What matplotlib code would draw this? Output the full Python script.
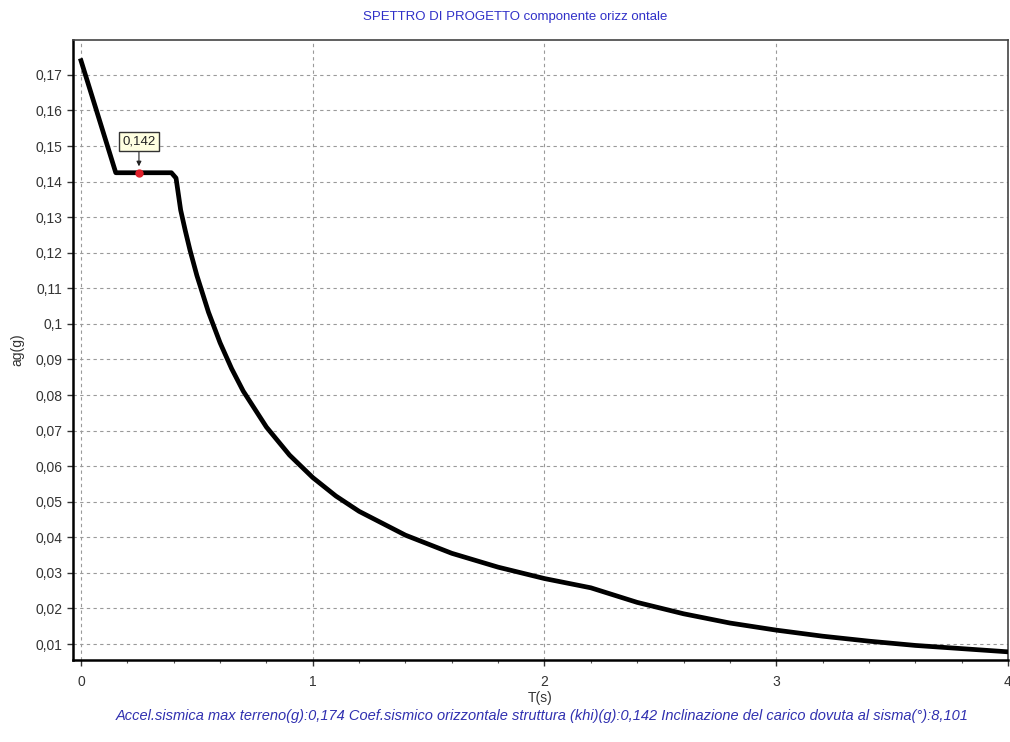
import matplotlib
matplotlib.use('Agg')
import matplotlib.pyplot as plt
from matplotlib.ticker import MultipleLocator, FuncFormatter

# spectrum values
T = [0.0, 0.15, 0.39, 0.41, 0.43, 0.45, 0.47, 0.50, 0.55, 0.60, 0.65, 0.70, 0.80, 0.90,
     1.00, 1.10, 1.20, 1.40, 1.60, 1.80, 2.00, 2.20, 2.40, 2.60, 2.80, 3.00, 3.20,
     3.40, 3.60, 3.80, 4.00]
ag = [0.174, 0.1425, 0.1425, 0.1410, 0.1320, 0.1262, 0.1208, 0.1136, 0.1033, 0.0947,
      0.0874, 0.0811, 0.0710, 0.0631, 0.0568, 0.0516, 0.0473, 0.0406, 0.0355, 0.0316,
      0.0284, 0.0258, 0.0217, 0.0185, 0.0159, 0.0139, 0.0122, 0.0108, 0.0096, 0.0087,
      0.0078]

point_T = 0.25
point_ag = 0.1425
point_label = '0,142'

title = 'SPETTRO DI PROGETTO componente orizz ontale'
caption = ('Accel.sismica max terreno(g):0,174 Coef.sismico orizzontale struttura (khi)(g):0,142 '
           'Inclinazione del carico dovuta al sisma(°):8,101')

plt.rcParams['font.family'] = ['Liberation Sans', 'DejaVu Sans']

fig = plt.figure(figsize=(10.1, 7.42), dpi=100)
ax = fig.add_axes([0.0723, 0.1105, 0.9257, 0.8355])

ax.plot(T, ag, color='black', lw=3.4, solid_joinstyle='round', zorder=3)
ax.plot([point_T], [point_ag], 'o', color='#e0202a', ms=5, zorder=4)
ax.annotate(point_label, xy=(point_T, point_ag + 0.0018), xytext=(point_T, 0.1512),
            ha='center', va='center', fontsize=9.5, color='#222222',
            bbox=dict(boxstyle='square,pad=0.25', fc='#ffffe0', ec='#333333', lw=1),
            arrowprops=dict(arrowstyle='-|>', color='#222222', lw=0.8,
                            shrinkA=0, shrinkB=0, mutation_scale=7), zorder=5)

ax.set_xlim(-0.0345, 4.0)
ax.set_ylim(0.0055, 0.1798)
ax.xaxis.set_major_locator(MultipleLocator(1))
ax.xaxis.set_minor_locator(MultipleLocator(0.2))
ax.set_yticks([0.01 * i for i in range(1, 18)])
ax.yaxis.set_major_formatter(FuncFormatter(lambda v, p: ('%g' % round(v, 3)).replace('.', ',')))
ax.xaxis.set_major_formatter(FuncFormatter(lambda v, p: '%d' % round(v)))

ax.grid(True, which='major', color='#9a9a9a', ls=(0, (3, 3)), lw=0.8)
ax.tick_params(axis='both', which='major', direction='out', length=4, width=1,
               labelsize=10, labelcolor='#333333', color='#333333')
ax.tick_params(axis='x', which='minor', direction='out', length=2.5, width=0.8, color='#555555')
ax.tick_params(axis='x', which='major', pad=7)

for side in ['left', 'bottom']:
    ax.spines[side].set_linewidth(1.8)
    ax.spines[side].set_color('black')
for side in ['top', 'right']:
    ax.spines[side].set_linewidth(1.2)
    ax.spines[side].set_color('#444444')

ax.set_xlabel('T(s)', fontsize=10, color='#333333', labelpad=1)
ax.set_ylabel('ag(g)', fontsize=10, color='#333333', labelpad=8)

fig.text(0.51, 0.977, title, ha='center', va='center', fontsize=9.5, color='#3030c8')
fig.text(0.537, 0.035, caption, ha='center', va='center', fontsize=10.5,
         color='#3030b0', style='italic')

fig.savefig('out.png', dpi=100)
